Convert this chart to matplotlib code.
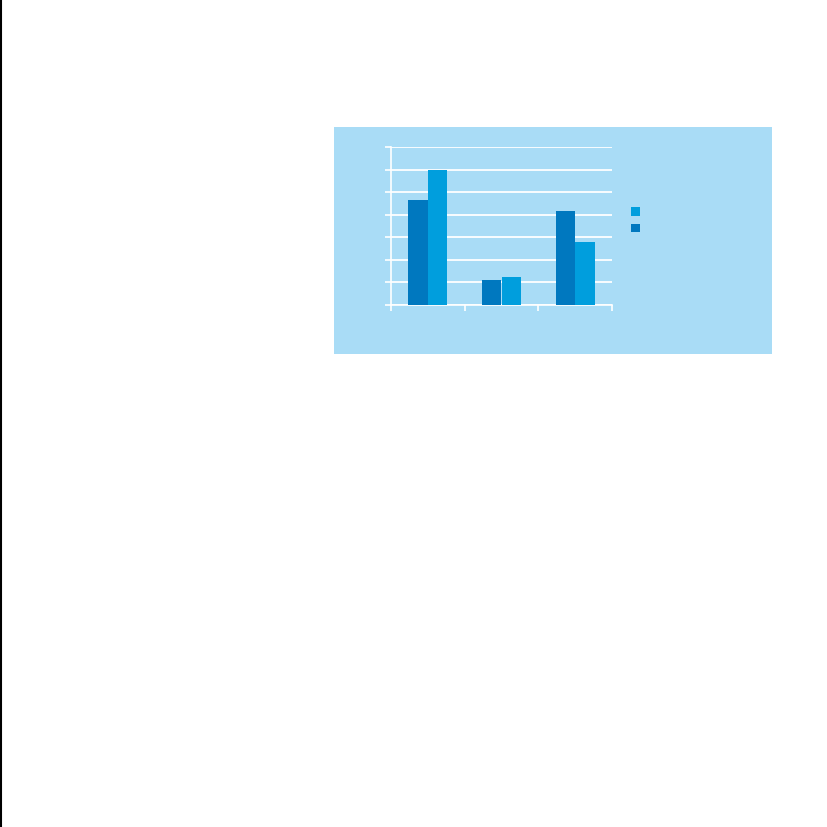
import matplotlib
matplotlib.use("Agg")
import matplotlib.pyplot as plt
from matplotlib.patches import Rectangle, Patch
from matplotlib.lines import Line2D
import numpy as np

# data (no labels are visible in the reference)
categories = ["", "", ""]
series_names = ["", ""]
dark_values = [4.67, 1.12, 4.17]
light_values = [5.97, 1.25, 2.77]
y_ticks = [0, 1, 2, 3, 4, 5, 6, 7]

DARK = "#0078BF"
LIGHT = "#009EDD"
PANEL = "#A9DCF6"

W = H = 827
fig = plt.figure(figsize=(8.27, 8.27), dpi=100)
fig.patch.set_facecolor("white")

# light blue panel behind the chart
fig.patches.append(Rectangle((334 / W, 1 - 354 / H), (772 - 334) / W, (354 - 127) / H,
                             transform=fig.transFigure, facecolor=PANEL,
                             edgecolor="none", zorder=0))
# thin black rule on the left edge
fig.lines.append(Line2D([0.0008, 0.0008], [0, 1], transform=fig.transFigure,
                        color="black", lw=1.5))

ax = fig.add_axes([391 / W, 1 - 305 / H, (612 - 391) / W, (305 - 147) / H])
ax.set_zorder(2)
ax.set_facecolor("none")

x = np.arange(len(categories))
bw = 0.265
ax.bar(x - bw / 2, dark_values, bw, color=DARK, zorder=3)
ax.bar(x + bw / 2, light_values, bw, color=LIGHT, zorder=3)

ax.set_xlim(-0.5, len(categories) - 0.5)
ax.set_ylim(0, y_ticks[-1])
ax.set_yticks(y_ticks)
ax.set_xticks(np.arange(len(categories) + 1) - 0.5)
ax.tick_params(colors="white", length=4, width=1.2,
               labelleft=False, labelbottom=False)
ax.grid(axis="y", color="white", lw=1.3, zorder=1)
for s in ["top", "right"]:
    ax.spines[s].set_visible(False)
for s in ["left", "bottom"]:
    ax.spines[s].set_color("white")
    ax.spines[s].set_linewidth(1.2)

handles = [Patch(facecolor=LIGHT), Patch(facecolor=DARK)]
leg = fig.legend(handles, [series_names[1], series_names[0]],
                 loc="upper left", bbox_to_anchor=(631 / W, 1 - 207 / H),
                 frameon=False, handlelength=0.8, handleheight=0.8,
                 labelspacing=0.6, borderpad=0, borderaxespad=0,
                 handletextpad=0.3, fontsize=8)
leg.set_zorder(3)

fig.savefig("out.png", dpi=100, facecolor="white")
